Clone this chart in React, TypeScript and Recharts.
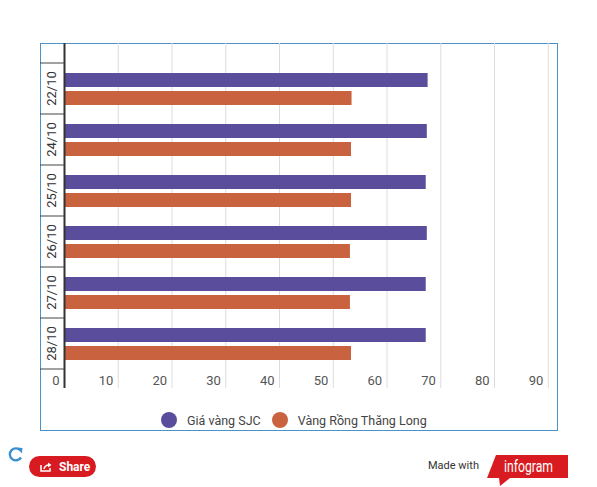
import { BarChart, Bar, XAxis, YAxis, CartesianGrid } from 'recharts';

const dates = ['22/10', '24/10', '25/10', '26/10', '27/10', '28/10'];
const sjcValues = [67.55, 67.4, 67.2, 67.4, 67.2, 67.2];
const thangLongValues = [53.4, 53.3, 53.3, 53.1, 53.1, 53.3];
const xTicks = [0, 10, 20, 30, 40, 50, 60, 70, 80, 90];
const seriesNames = ['Giá vàng SJC', 'Vàng Rồng Thăng Long'];

const COLORS = ['#5a4e9c', '#c9633f'];
const FONT = 'Roboto, "Noto Sans", sans-serif';

// plot geometry (page coordinates)
const PLOT_TOP = 43;
const PLOT_BOTTOM = 388;
const PLOT_LEFT = 64.5;
const PLOT_RIGHT = 548.3;
const PAD_TOP = 20;
const PAD_BOTTOM = 19;
const BAND = (PLOT_BOTTOM - PLOT_TOP - PAD_TOP - PAD_BOTTOM) / dates.length;

const chartData = dates.map((date, i) => ({
  date,
  sjc: sjcValues[i],
  thangLong: thangLongValues[i],
}));

function DateTick(props: any) {
  const { y, payload, index } = props;
  const top = y - BAND / 2;
  const bottom = y + BAND / 2;
  return (
    <g>
      <line x1={40} x2={PLOT_LEFT} y1={top} y2={top} stroke="#444" strokeWidth={1} />
      {index === dates.length - 1 && (
        <line x1={40} x2={PLOT_LEFT} y1={bottom} y2={bottom} stroke="#444" strokeWidth={1} />
      )}
      <text
        transform={`translate(51, ${y}) rotate(-90)`}
        textAnchor="middle"
        dominantBaseline="central"
        fontSize={13}
        fill="#333"
        fontFamily={FONT}
      >
        {payload.value}
      </text>
    </g>
  );
}

function ValueTick(props: any) {
  const { x, payload } = props;
  return (
    <text
      x={x - 5}
      y={PLOT_BOTTOM - 3}
      textAnchor="end"
      fontSize={13}
      fill="#555"
      fontFamily={FONT}
    >
      {payload.value}
    </text>
  );
}

export default function App() {
  return (
    <div
      style={{
        position: 'absolute',
        left: 0,
        top: 0,
        width: 597,
        height: 487,
        background: '#fff',
        fontFamily: FONT,
      }}
    >
      <div
        style={{
          position: 'absolute',
          left: 39.5,
          top: 42.5,
          width: 518,
          height: 388,
          border: '1px solid #4a92c8',
          boxSizing: 'border-box',
        }}
      />
      <div style={{ position: 'absolute', left: 0, top: 0 }}>
        <BarChart
          width={597}
          height={487}
          data={chartData}
          layout="vertical"
          margin={{ top: PLOT_TOP, right: 597 - PLOT_RIGHT, bottom: 487 - PLOT_BOTTOM - 1, left: 40 }}
          barCategoryGap={10}
          barGap={4}
        >
          <CartesianGrid horizontal={false} stroke="#dcdcdc" />
          <XAxis
            type="number"
            domain={[0, 90]}
            ticks={xTicks}
            axisLine={false}
            tickLine={false}
            height={1}
            tick={<ValueTick />}
            interval={0}
          />
          <YAxis
            type="category"
            dataKey="date"
            width={PLOT_LEFT - 40}
            padding={{ top: PAD_TOP, bottom: PAD_BOTTOM }}
            axisLine={{ stroke: '#333', strokeWidth: 2 }}
            tickLine={false}
            tick={<DateTick />}
            interval={0}
          />
          <Bar dataKey="sjc" name={seriesNames[0]} fill={COLORS[0]} isAnimationActive={false} />
          <Bar dataKey="thangLong" name={seriesNames[1]} fill={COLORS[1]} isAnimationActive={false} />
        </BarChart>
      </div>

      {/* legend */}
      <div
        style={{
          position: 'absolute',
          left: 161,
          top: 412,
          display: 'flex',
          alignItems: 'center',
          fontSize: 12.5,
          color: '#444',
        }}
      >
        {seriesNames.map((name, i) => (
          <div key={name} style={{ display: 'flex', alignItems: 'center', marginRight: 11 }}>
            <span
              style={{
                width: 16,
                height: 16,
                borderRadius: '50%',
                background: COLORS[i],
                marginRight: 10,
                display: 'inline-block',
              }}
            />
            <span>{name}</span>
          </div>
        ))}
      </div>

      {/* refresh icon */}
      <svg style={{ position: 'absolute', left: 8, top: 446 }} width={17} height={16}>
        <path d="M12.5 4.5 A6 6 0 1 0 13 11.5" fill="none" stroke="#3a8fd0" strokeWidth={2.4} />
        <path d="M9 1.5 L14.5 2 L13.8 7.5 Z" fill="#3a8fd0" />
      </svg>

      {/* share button */}
      <div
        style={{
          position: 'absolute',
          left: 29,
          top: 456,
          width: 67,
          height: 21,
          borderRadius: 11,
          background: '#d81b21',
          color: '#fff',
          fontSize: 12,
          fontWeight: 700,
          display: 'flex',
          alignItems: 'center',
        }}
      >
        <svg width={12} height={10} style={{ marginLeft: 11, marginRight: 7 }}>
          <path d="M1 3 V9 H10 V6" fill="none" stroke="#fff" strokeWidth={1.5} />
          <path d="M4 7 Q5 3 9 3" fill="none" stroke="#fff" strokeWidth={1.5} />
          <path d="M8 0.5 L11.5 3 L8 5.5 Z" fill="#fff" />
        </svg>
        Share
      </div>

      {/* made with infogram */}
      <div style={{ position: 'absolute', left: 428, top: 459, fontSize: 11, color: '#333' }}>
        Made with
      </div>
      <svg style={{ position: 'absolute', left: 480, top: 452 }} width={92} height={36}>
        <path d="M16 3 H88 V26 H30 L20 34 L19 26 H7 Z" fill="#d81b21" />
        <text
          x={24}
          y={19.5}
          fill="#fff"
          fontSize={16}
          fontFamily={FONT}
          textLength={49}
          lengthAdjust="spacingAndGlyphs"
        >
          infogram
        </text>
      </svg>
    </div>
  );
}
